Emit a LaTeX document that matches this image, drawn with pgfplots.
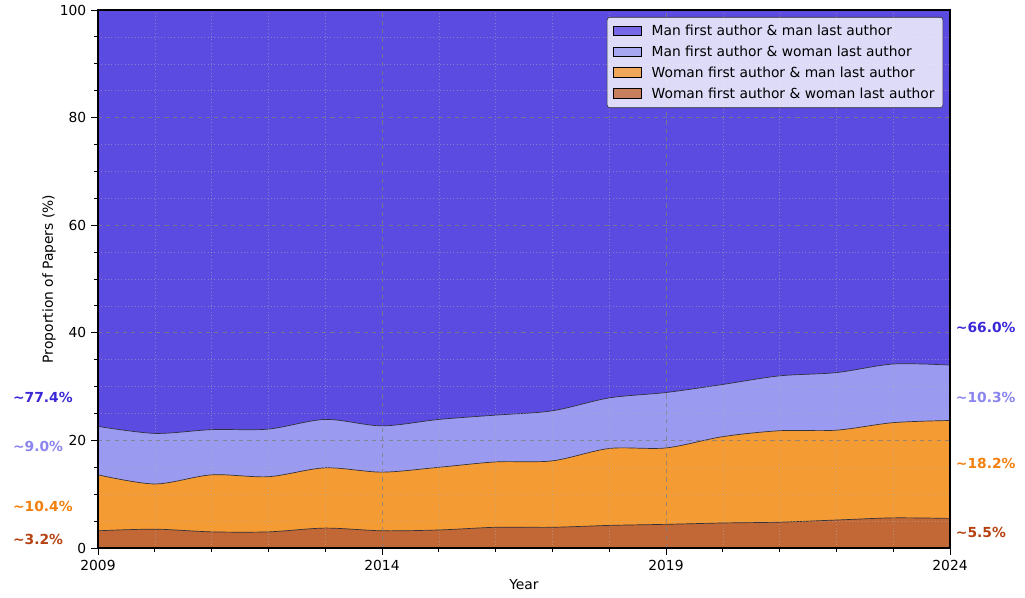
\documentclass[border=0pt]{standalone}
\usepackage{pgfplots}
\usepackage{pgfplotstable}
\usepackage{fontspec}
\setmainfont{DejaVu Sans}
\pgfplotsset{compat=1.18}

\definecolor{mmfill}{RGB}{91,75,225}
\definecolor{mwfill}{RGB}{154,154,240}
\definecolor{wmfill}{RGB}{245,155,51}
\definecolor{wwfill}{RGB}{194,104,54}
\definecolor{mmtxt}{RGB}{58,40,215}
\definecolor{mwtxt}{RGB}{138,132,238}
\definecolor{wmtxt}{RGB}{242,128,15}
\definecolor{wwtxt}{RGB}{182,66,18}
\definecolor{edge}{RGB}{50,50,60}

% shares per year (%)
\pgfplotstableread{
year ww   wm    mw   mm
2009 3.2  10.4  9.0  77.4
2010 3.5  8.4   9.4  78.7
2011 3.0  10.6  8.4  78.0
2012 3.0  10.25 8.85 77.9
2013 3.7  11.2  9.0  76.1
2014 3.2  10.9  8.6  77.3
2015 3.35 11.65 8.9  76.1
2016 3.85 12.15 8.7  75.3
2017 3.85 12.35 9.3  74.5
2018 4.2  14.3  9.4  72.1
2019 4.4  14.2  10.3 71.1
2020 4.65 16.05 9.7  69.6
2021 4.8  17.0  10.2 68.0
2022 5.2  16.7  10.7 67.4
2023 5.6  17.7  10.9 65.8
2024 5.5  18.2  10.3 66.0
}\shares

\begin{document}
\begin{tikzpicture}
\begin{axis}[
    scale only axis,
    width=8.52in, height=5.38in,
    xmin=2009, xmax=2024, ymin=0, ymax=100,
    axis on top,
    clip=false,
    xtick={2009,2014,2019,2024},
    minor x tick num=4,
    ytick={0,20,40,60,80,100},
    minor y tick num=3,
    xtick pos=bottom, ytick pos=left,
    tick align=outside,
    major tick length=5pt, minor tick length=3pt,
    tick style={black, line width=0.6pt},
    /pgf/number format/1000 sep={},
    /pgf/number format/assume math mode=true,
    ticklabel style={font=\fontsize{10}{12}\selectfont},
    grid=both,
    major grid style={gray, dashed, line width=0.5pt, opacity=0.8},
    minor grid style={gray!60, dotted, line width=0.4pt, opacity=0.5},
    xlabel={Year}, ylabel={Proportion of Papers (\%)},
    label style={font=\fontsize{10}{12}\selectfont},
    xlabel style={yshift=0pt},
    ylabel style={yshift=-4pt},
    axis line style={black, line width=0.8pt},
    legend style={at={(0.992,0.987)}, anchor=north east,
      fill=white, fill opacity=0.8, text opacity=1, draw=black!80,
      rounded corners=2pt, font=\fontsize{10}{12}\selectfont,
      row sep=2pt, inner xsep=4pt, inner ysep=3.5pt},
    legend cell align=left,
    legend image code/.code={%
      \draw[#1, sharp corners, line width=0.6pt, draw=black]
        (0cm,-0.12cm) rectangle (0.72cm,0.13cm);
      \path (0.9cm,0cm);},
  ]
% cumulative boundaries, drawn top layer first
\addplot[smooth, tension=0.5, fill=mmfill, draw=edge, line width=0.5pt]
  table[x=year, y expr=\thisrow{ww}+\thisrow{wm}+\thisrow{mw}+\thisrow{mm}] {\shares} \closedcycle;
\addlegendentry{Man first author \& man last author}
\addplot[smooth, tension=0.5, fill=mwfill, draw=edge, line width=0.5pt]
  table[x=year, y expr=\thisrow{ww}+\thisrow{wm}+\thisrow{mw}] {\shares} \closedcycle;
\addlegendentry{Man first author \& woman last author}
\addplot[smooth, tension=0.5, fill=wmfill, draw=edge, line width=0.5pt]
  table[x=year, y expr=\thisrow{ww}+\thisrow{wm}] {\shares} \closedcycle;
\addlegendentry{Woman first author \& man last author}
\addplot[smooth, tension=0.5, fill=wwfill, draw=edge, line width=0.5pt]
  table[x=year, y=ww] {\shares} \closedcycle;
\addlegendentry{Woman first author \& woman last author}

\begin{scope}[font=\bfseries\fontsize{10}{12}\selectfont]
\node[anchor=west, text=mmtxt, inner sep=0pt] at (axis cs:2007.5,27.9) {\textasciitilde77.4\%};
\node[anchor=west, text=mwtxt, inner sep=0pt] at (axis cs:2007.5,18.8) {\textasciitilde9.0\%};
\node[anchor=west, text=wmtxt, inner sep=0pt] at (axis cs:2007.5,7.8) {\textasciitilde10.4\%};
\node[anchor=west, text=wwtxt, inner sep=0pt] at (axis cs:2007.5,1.6) {\textasciitilde3.2\%};
\node[anchor=west, text=mmtxt, inner sep=0pt] at (axis cs:2024.1,40.9) {\textasciitilde66.0\%};
\node[anchor=west, text=mwtxt, inner sep=0pt] at (axis cs:2024.1,27.9) {\textasciitilde10.3\%};
\node[anchor=west, text=wmtxt, inner sep=0pt] at (axis cs:2024.1,15.8) {\textasciitilde18.2\%};
\node[anchor=west, text=wwtxt, inner sep=0pt] at (axis cs:2024.1,2.8) {\textasciitilde5.5\%};
\end{scope}
\end{axis}
\path (current axis.south west) ++(-0.98in,-0.50in) rectangle ++(10.25in,5.98in);
\end{tikzpicture}
\end{document}
